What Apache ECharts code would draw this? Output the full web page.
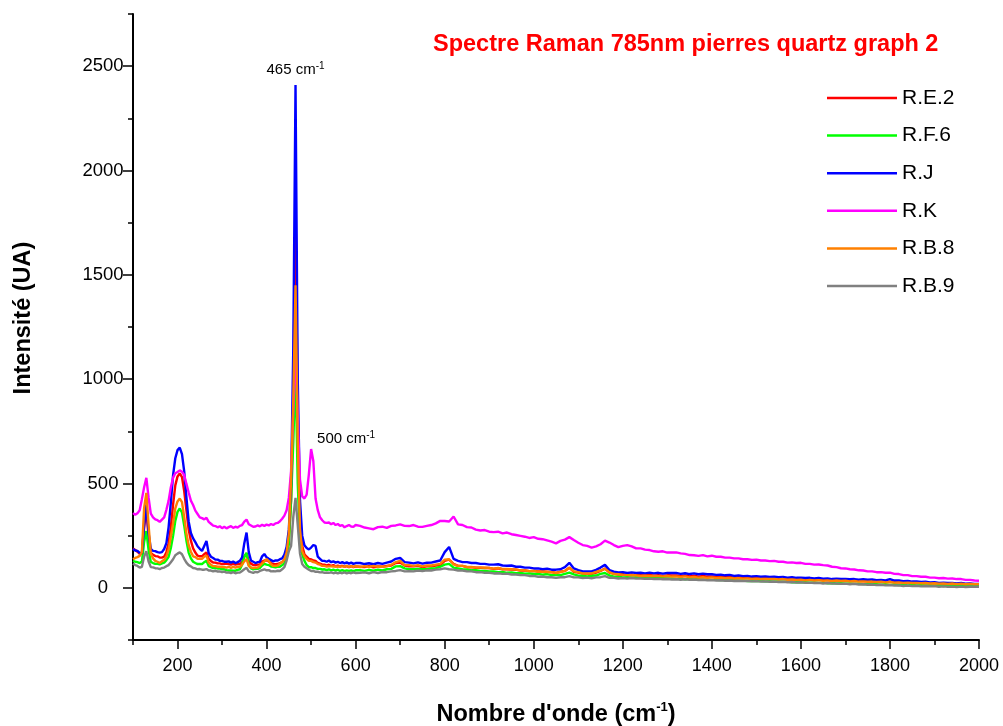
<!DOCTYPE html>
<html>
<head>
<meta charset="utf-8">
<script src="https://cdn.jsdelivr.net/npm/echarts@6/dist/echarts.min.js"></script>
<style>
  html, body { margin: 0; padding: 0; background: #ffffff; }
  #chart { width: 1003px; height: 726px; }
</style>
</head>
<body>
<div id="chart"></div>
<script>
// Raman shift grid (cm-1): 5 cm-1 steps up to 600, then 10 cm-1 steps
const wavenumbers = [
  100, 105, 110, 115, 120, 125, 130, 135, 140, 145,
  150, 155, 160, 165, 170, 175, 180, 185, 190, 195,
  200, 205, 210, 215, 220, 225, 230, 235, 240, 245,
  250, 255, 260, 265, 270, 275, 280, 285, 290, 295,
  300, 305, 310, 315, 320, 325, 330, 335, 340, 345,
  350, 355, 360, 365, 370, 375, 380, 385, 390, 395,
  400, 405, 410, 415, 420, 425, 430, 435, 440, 445,
  450, 455, 460, 465, 470, 475, 480, 485, 490, 495,
  500, 505, 510, 515, 520, 525, 530, 535, 540, 545,
  550, 555, 560, 565, 570, 575, 580, 585, 590, 595,
  600, 610, 620, 630, 640, 650, 660, 670, 680, 690,
  700, 710, 720, 730, 740, 750, 760, 770, 780, 790,
  800, 810, 820, 830, 840, 850, 860, 870, 880, 890,
  900, 910, 920, 930, 940, 950, 960, 970, 980, 990,
  1000, 1010, 1020, 1030, 1040, 1050, 1060, 1070, 1080, 1090,
  1100, 1110, 1120, 1130, 1140, 1150, 1160, 1170, 1180, 1190,
  1200, 1210, 1220, 1230, 1240, 1250, 1260, 1270, 1280, 1290,
  1300, 1310, 1320, 1330, 1340, 1350, 1360, 1370, 1380, 1390,
  1400, 1410, 1420, 1430, 1440, 1450, 1460, 1470, 1480, 1490,
  1500, 1510, 1520, 1530, 1540, 1550, 1560, 1570, 1580, 1590,
  1600, 1610, 1620, 1630, 1640, 1650, 1660, 1670, 1680, 1690,
  1700, 1710, 1720, 1730, 1740, 1750, 1760, 1770, 1780, 1790,
  1800, 1810, 1820, 1830, 1840, 1850, 1860, 1870, 1880, 1890,
  1900, 1910, 1920, 1930, 1940, 1950, 1960, 1970, 1980, 1990,
  2000
];

const sampleNames = ['R.E.2', 'R.F.6', 'R.J', 'R.K', 'R.B.8', 'R.B.9'];
const sampleColors = ['#ff0000', '#00ff00', '#0000ff', '#ff00ff', '#ff8000', '#808080'];

const intensityRE2 = [
  189, 181, 173, 163, 163, 290, 380, 241, 167, 159,
  152, 151, 145, 145, 149, 171, 214, 291, 399, 491,
  534, 548, 531, 464, 371, 279, 226, 189, 169, 154,
  151, 151, 161, 170, 139, 129, 121, 121, 117, 117,
  114, 115, 115, 114, 111, 115, 111, 114, 114, 123,
  149, 165, 127, 116, 109, 109, 111, 111, 126, 131,
  131, 127, 119, 113, 113, 114, 119, 123, 136, 159,
  230, 420, 900, 1850, 780, 330, 201, 161, 149, 139,
  136, 131, 129, 119, 116, 111, 111, 107, 111, 105,
  109, 103, 107, 102, 106, 101, 105, 99, 104, 99,
  103, 101, 99, 104, 98, 102, 101, 105, 107, 119,
  121, 107, 103, 103, 105, 99, 103, 103, 107, 109,
  129, 135, 115, 105, 105, 99, 99, 96, 96, 95,
  95, 91, 94, 89, 89, 88, 87, 83, 84, 80,
  81, 78, 78, 77, 76, 72, 77, 81, 97, 77,
  73, 68, 68, 67, 73, 81, 93, 73, 68, 64,
  65, 61, 64, 60, 61, 59, 62, 58, 61, 57,
  60, 59, 59, 56, 59, 55, 58, 54, 57, 54,
  55, 52, 53, 51, 52, 49, 51, 48, 49, 46,
  48, 45, 47, 44, 45, 43, 44, 42, 43, 40,
  42, 39, 41, 38, 39, 37, 37, 35, 37, 34,
  36, 33, 34, 32, 33, 31, 32, 29, 31, 28,
  30, 27, 28, 25, 27, 24, 25, 23, 24, 21,
  23, 20, 22, 19, 21, 18, 20, 17, 19, 16,
  17
];

const intensityRF6 = [
  129, 125, 123, 119, 126, 220, 272, 181, 124, 119,
  115, 115, 112, 117, 121, 133, 149, 191, 249, 321,
  364, 380, 361, 299, 226, 169, 141, 125, 119, 114,
  114, 114, 123, 130, 104, 99, 95, 96, 93, 93,
  89, 89, 85, 83, 83, 82, 82, 86, 89, 111,
  150, 168, 109, 93, 89, 92, 91, 96, 107, 115,
  111, 109, 102, 101, 98, 102, 101, 109, 117, 141,
  210, 420, 700, 1050, 500, 230, 161, 129, 109, 99,
  99, 95, 95, 91, 91, 88, 89, 85, 89, 84,
  87, 83, 87, 81, 85, 80, 84, 81, 84, 80,
  84, 85, 81, 86, 82, 87, 83, 89, 91, 103,
  104, 93, 89, 89, 90, 89, 89, 93, 94, 101,
  111, 115, 97, 93, 89, 88, 84, 85, 81, 81,
  78, 79, 75, 76, 72, 74, 70, 71, 68, 69,
  66, 67, 63, 66, 61, 61, 61, 67, 73, 65,
  58, 58, 55, 58, 59, 67, 71, 59, 53, 53,
  50, 51, 50, 50, 48, 49, 46, 47, 46, 46,
  45, 45, 43, 44, 41, 43, 40, 42, 39, 40,
  38, 39, 37, 38, 36, 37, 34, 35, 33, 34,
  32, 33, 31, 32, 30, 31, 29, 30, 27, 28,
  26, 27, 25, 26, 24, 25, 22, 23, 21, 22,
  20, 21, 19, 20, 18, 19, 17, 18, 15, 17,
  14, 16, 13, 15, 12, 14, 11, 13, 11, 12,
  10, 12, 9, 11, 9, 11, 8, 10, 9, 11,
  10
];

const intensityRJ = [
  186, 179, 177, 167, 166, 300, 400, 262, 186, 177,
  176, 171, 169, 171, 186, 214, 291, 410, 540, 621,
  660, 672, 641, 558, 432, 318, 263, 237, 219, 199,
  187, 177, 201, 225, 166, 149, 143, 135, 135, 129,
  129, 125, 125, 127, 121, 126, 119, 123, 129, 146,
  214, 265, 171, 131, 125, 119, 123, 125, 151, 162,
  146, 139, 133, 127, 131, 131, 137, 141, 159, 196,
  280, 500, 1150, 2410, 1000, 420, 250, 204, 191, 184,
  193, 205, 201, 149, 139, 129, 129, 125, 131, 123,
  127, 121, 125, 119, 123, 117, 122, 116, 121, 115,
  119, 119, 114, 118, 113, 119, 115, 121, 126, 139,
  143, 123, 121, 117, 122, 116, 120, 121, 126, 131,
  171, 196, 139, 129, 123, 123, 119, 119, 115, 115,
  111, 111, 113, 107, 106, 107, 101, 101, 97, 97,
  93, 93, 89, 92, 87, 87, 89, 99, 120, 93,
  85, 79, 79, 79, 86, 97, 110, 85, 78, 74,
  75, 71, 74, 71, 72, 69, 73, 69, 72, 68,
  71, 71, 71, 67, 70, 66, 69, 65, 68, 65,
  65, 62, 63, 60, 62, 57, 60, 56, 57, 54,
  56, 53, 55, 52, 53, 51, 52, 49, 51, 48,
  49, 47, 48, 45, 47, 44, 45, 42, 44, 42,
  43, 41, 42, 39, 41, 39, 40, 37, 38, 36,
  42, 35, 35, 32, 33, 30, 31, 28, 29, 26,
  27, 24, 25, 23, 24, 21, 23, 20, 21, 19,
  19
];

const intensityRK = [
  358, 350, 357, 372, 425, 482, 527, 432, 356, 338,
  328, 324, 316, 327, 338, 374, 418, 482, 528, 549,
  555, 563, 556, 541, 498, 457, 418, 397, 370, 354,
  338, 334, 328, 336, 316, 307, 298, 296, 290, 295,
  286, 293, 285, 291, 296, 287, 293, 289, 297, 301,
  317, 327, 305, 299, 293, 294, 299, 295, 302, 297,
  303, 299, 306, 301, 309, 311, 319, 331, 346, 372,
  432, 560, 850, 1150, 820, 520, 438, 428, 447, 545,
  665, 608, 428, 372, 338, 324, 313, 311, 313, 305,
  311, 301, 306, 297, 301, 290, 296, 301, 294, 292,
  301, 297, 289, 285, 281, 291, 293, 287, 297, 299,
  304, 297, 296, 301, 293, 292, 297, 301, 309, 321,
  320, 318, 342, 304, 301, 291, 289, 279, 275, 277,
  269, 267, 269, 261, 265, 257, 253, 249, 245, 239,
  243, 235, 233, 227, 221, 213, 225, 231, 243, 229,
  216, 205, 201, 193, 199, 209, 226, 217, 205, 195,
  201, 205, 199, 189, 189, 183, 181, 175, 173, 175,
  169, 169, 170, 165, 163, 157, 156, 153, 157, 151,
  154, 149, 149, 145, 145, 141, 141, 137, 137, 134,
  135, 131, 131, 128, 129, 125, 125, 121, 122, 119,
  120, 115, 115, 111, 112, 109, 107, 101, 99, 94,
  93, 89, 88, 84, 83, 79, 79, 75, 75, 72,
  73, 67, 66, 61, 61, 56, 56, 53, 53, 49,
  49, 46, 47, 44, 45, 42, 42, 38, 38, 35,
  34
];

const intensityRB8 = [
  137, 143, 147, 153, 171, 383, 455, 301, 164, 141,
  129, 125, 119, 127, 134, 151, 184, 246, 309, 381,
  414, 428, 411, 339, 261, 204, 173, 151, 147, 139,
  139, 139, 149, 155, 121, 111, 104, 104, 101, 101,
  100, 100, 97, 101, 96, 100, 97, 101, 101, 111,
  127, 138, 105, 98, 94, 97, 97, 106, 117, 126,
  138, 127, 113, 105, 106, 107, 116, 124, 136, 169,
  260, 520, 900, 1450, 700, 280, 176, 151, 139, 129,
  129, 123, 121, 114, 111, 105, 105, 102, 103, 103,
  102, 102, 101, 103, 103, 101, 106, 100, 104, 101,
  105, 99, 104, 100, 105, 101, 101, 103, 111, 123,
  129, 109, 109, 105, 109, 103, 107, 107, 111, 115,
  135, 137, 113, 105, 105, 100, 100, 97, 97, 96,
  95, 92, 95, 90, 91, 89, 88, 84, 84, 80,
  81, 77, 77, 76, 75, 71, 76, 81, 96, 79,
  75, 69, 69, 69, 76, 83, 91, 75, 66, 65,
  62, 61, 60, 60, 57, 58, 57, 57, 56, 55,
  57, 54, 55, 52, 55, 50, 52, 49, 51, 48,
  50, 47, 48, 46, 47, 45, 46, 44, 45, 43,
  44, 42, 43, 42, 43, 40, 42, 39, 40, 38,
  39, 36, 38, 35, 37, 34, 36, 33, 35, 33,
  34, 31, 33, 30, 31, 29, 30, 28, 29, 26,
  28, 25, 26, 24, 25, 23, 24, 22, 23, 21,
  22, 20, 21, 19, 21, 18, 20, 17, 19, 17,
  18
];

const intensityRB9 = [
  116, 109, 105, 97, 101, 150, 175, 126, 99, 98,
  94, 93, 90, 95, 97, 104, 109, 123, 137, 156,
  164, 170, 161, 139, 121, 109, 103, 95, 93, 89,
  90, 87, 87, 90, 83, 83, 79, 82, 78, 79,
  75, 78, 73, 74, 71, 75, 70, 73, 73, 81,
  89, 96, 79, 75, 72, 76, 75, 81, 85, 89,
  84, 85, 79, 80, 79, 82, 81, 89, 99, 131,
  175, 200, 340, 431, 300, 165, 114, 101, 94, 87,
  81, 81, 77, 77, 74, 75, 72, 73, 72, 74,
  70, 73, 69, 73, 70, 74, 69, 73, 70, 74,
  71, 72, 74, 70, 75, 71, 76, 75, 79, 81,
  85, 79, 80, 79, 83, 80, 84, 83, 87, 89,
  93, 89, 87, 83, 83, 79, 79, 75, 75, 72,
  72, 69, 70, 67, 68, 64, 64, 61, 61, 57,
  57, 53, 54, 51, 51, 48, 51, 51, 56, 50,
  50, 47, 49, 46, 50, 51, 56, 48, 48, 45,
  47, 44, 47, 44, 45, 43, 44, 42, 43, 41,
  42, 40, 41, 39, 41, 38, 40, 37, 39, 36,
  37, 35, 36, 34, 35, 33, 34, 32, 33, 31,
  32, 30, 31, 29, 30, 28, 29, 27, 28, 25,
  27, 24, 25, 23, 24, 21, 23, 20, 21, 19,
  20, 17, 19, 16, 17, 15, 16, 13, 15, 12,
  13, 11, 12, 9, 11, 8, 10, 7, 9, 7,
  8, 5, 7, 5, 6, 4, 6, 4, 5, 5,
  5
];

// Axis ticks: labelled major ticks and short unlabelled minor ticks
const xMajorTicks = [200, 400, 600, 800, 1000, 1200, 1400, 1600, 1800, 2000];
const xMinorTicks = [100, 300, 500, 700, 900, 1100, 1300, 1500, 1700, 1900];
const yMajorTicks = [0, 500, 1000, 1500, 2000, 2500];
const yMinorTicks = [-250, 250, 750, 1250, 1750, 2250, 2750];

// Annotated band positions (cm-1)
const bandQuartzMain = 465;
const bandQuartzSecond = 500;

const FONT = '"Liberation Sans", Arial, Helvetica, sans-serif';

const allIntensities = [intensityRE2, intensityRF6, intensityRJ, intensityRK, intensityRB8, intensityRB9];

function peakValue(values, wn) {
  return values[wavenumbers.indexOf(wn)];
}

const series = sampleNames.map((name, k) => ({
  name: name,
  type: 'line',
  xAxisIndex: 0,
  yAxisIndex: 0,
  symbol: 'none',
  showSymbol: false,
  smooth: false,
  lineStyle: { color: sampleColors[k], width: 2.4 },
  itemStyle: { color: sampleColors[k] },
  data: wavenumbers.map((w, i) => [w, allIntensities[k][i]]),
  silent: true
}));

// band labels with superscript units
const bandLabel = {
  show: true,
  color: '#000',
  fontFamily: FONT,
  rich: {
    n: { fontSize: 15, fontFamily: FONT, color: '#000', lineHeight: 18 },
    s: { fontSize: 10, fontFamily: FONT, color: '#000', verticalAlign: 'top', lineHeight: 18 }
  }
};

series[2].markPoint = {
  symbol: 'circle',
  symbolSize: 0,
  silent: true,
  data: [{ coord: [bandQuartzMain, peakValue(intensityRJ, bandQuartzMain)] }],
  label: Object.assign({}, bandLabel, {
    position: 'top',
    distance: 6,
    formatter: '{n|' + bandQuartzMain + ' cm}{s|-1}'
  })
};

series[3].markPoint = {
  symbol: 'circle',
  symbolSize: 0,
  silent: true,
  data: [{ coord: [bandQuartzSecond, peakValue(intensityRK, bandQuartzSecond)] }],
  label: Object.assign({}, bandLabel, {
    position: 'top',
    distance: 1,
    offset: [35, 0],
    formatter: '{n|' + bandQuartzSecond + ' cm}{s|-1}'
  })
};

const plainNumber = (v) => String(v);

const chart = echarts.init(document.getElementById('chart'), null, { renderer: 'canvas' });

chart.setOption({
  animation: false,
  backgroundColor: '#ffffff',
  title: {
    text: 'Spectre Raman 785nm pierres quartz graph 2',
    left: 428,
    top: 28,
    textStyle: { color: '#ff0000', fontFamily: FONT, fontWeight: 'bold', fontSize: 23.5 }
  },
  legend: {
    data: sampleNames,
    orient: 'vertical',
    left: 822,
    top: 82,
    icon: 'rect',
    itemWidth: 70,
    itemHeight: 2.5,
    itemGap: 15.6,
    textStyle: { color: '#000', fontFamily: FONT, fontSize: 21, lineHeight: 22 },
    selectedMode: false
  },
  grid: { left: 133, right: 24, top: 14, bottom: 86, containLabel: false, outerBoundsMode: 'none' },
  xAxis: [
    {
      type: 'value',
      min: 100,
      max: 2000,
      position: 'bottom',
      name: '{b|Nombre d\'onde (cm}{s|-1}{b|)}',
      nameLocation: 'middle',
      nameGap: 61,
      nameTextStyle: {
        rich: {
          b: { fontFamily: FONT, fontWeight: 'bold', fontSize: 23.5, color: '#000', lineHeight: 28 },
          s: { fontFamily: FONT, fontWeight: 'bold', fontSize: 13, color: '#000', verticalAlign: 'top', lineHeight: 28 }
        }
      },
      axisLine: { show: true, onZero: false, lineStyle: { color: '#000', width: 2 } },
      axisTick: { show: true, inside: false, length: 9, customValues: xMajorTicks, lineStyle: { color: '#000', width: 1.5 } },
      axisLabel: { show: true, customValues: xMajorTicks, formatter: plainNumber, margin: 17, color: '#000', fontFamily: FONT, fontSize: 18 },
      splitLine: { show: false }
    },
    {
      type: 'value',
      min: 100,
      max: 2000,
      position: 'bottom',
      axisLine: { show: false, onZero: false },
      axisTick: { show: true, inside: false, length: 5, customValues: xMinorTicks, lineStyle: { color: '#000', width: 1.5 } },
      axisLabel: { show: false },
      splitLine: { show: false }
    }
  ],
  yAxis: [
    {
      type: 'value',
      min: -250,
      max: 2750,
      position: 'left',
      name: 'Intensité (UA)',
      nameLocation: 'middle',
      nameGap: 97,
      nameTextStyle: { fontFamily: FONT, fontWeight: 'bold', fontSize: 23.5, color: '#000', padding: [0, 0, 0, 18] },
      axisLine: { show: true, onZero: false, lineStyle: { color: '#000', width: 2 } },
      axisTick: { show: true, inside: false, length: 10, customValues: yMajorTicks, lineStyle: { color: '#000', width: 1.5 } },
      axisLabel: { show: true, customValues: yMajorTicks, formatter: plainNumber, margin: 30, align: 'center', color: '#000', fontFamily: FONT, fontSize: 18.5 },
      splitLine: { show: false }
    },
    {
      type: 'value',
      min: -250,
      max: 2750,
      position: 'left',
      axisLine: { show: false, onZero: false },
      axisTick: { show: true, inside: false, length: 5, customValues: yMinorTicks, lineStyle: { color: '#000', width: 1.5 } },
      axisLabel: { show: false },
      splitLine: { show: false }
    }
  ],
  series: series
});
</script>
</body>
</html>
